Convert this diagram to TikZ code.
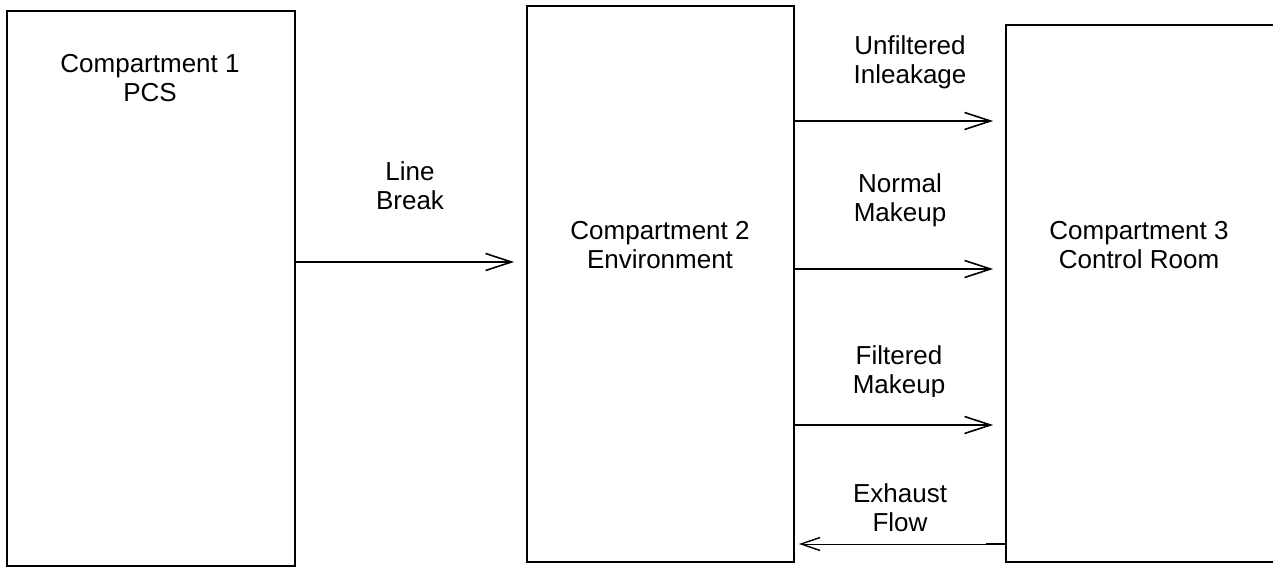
\documentclass[tikz,border=0pt]{standalone}
\usepackage{fontspec}
\setmainfont{Liberation Sans}
\usetikzlibrary{arrows.meta}

\begin{document}
\begin{tikzpicture}[x=1pt,y=-1pt,
  compbox/.style={draw=black,line width=1.8pt,rectangle,inner sep=0pt},
  lbl/.style={align=center,anchor=base,inner sep=0pt,
    font=\fontsize{26}{29}\selectfont},
  flow/.style={line width=1.6pt,-{Straight Barb[length=26pt,width=17pt,line width=1.6pt]},shorten >=12pt},
  backflow/.style={line width=0.8pt,-{Straight Barb[length=19pt,width=13pt,line width=1.4pt]},shorten >=4pt}]
  \useasboundingbox (0,0) rectangle (1273,567);

  % the three compartments
  \node[compbox,minimum width=288pt,minimum height=555pt] (box1) at (151,288.5) {};
  \node[compbox,minimum width=267pt,minimum height=556pt] (box2) at (660.5,284) {};
  \node[compbox,minimum width=268pt,minimum height=537pt] (box3) at (1140,293.5) {};

  % compartment names (placed by the baseline of their last line)
  \node[lbl] (t1) at (150,102)  {Compartment 1\\PCS};
  \node[lbl] (t2) at (660,268) {Compartment 2\\Environment};
  \node[lbl] (t3) at (1139,268) {Compartment 3\\Control Room};

  % heights of the flow paths
  \coordinate (yLB) at (0,262);
  \coordinate (yUI) at (0,121);
  \coordinate (yNM) at (0,269);
  \coordinate (yFM) at (0,425);
  \coordinate (yEF) at (0,544);

  % flows between compartments
  \draw[flow] (box1.east |- yLB) -- (box2.west |- yLB);
  \draw[flow] (box2.east |- yUI) -- (box3.west |- yUI);
  \draw[flow] (box2.east |- yNM) -- (box3.west |- yNM);
  \draw[flow] (box2.east |- yFM) -- (box3.west |- yFM);
  \draw[backflow] (box3.west |- yEF) -- (box2.east |- yEF);
  \draw[line width=1.5pt] (box3.west |- yEF) -- ++(-19,0) coordinate (stub);

  % flow names
  \node[lbl] (lLB) at (410,209) {Line\\Break};
  \node[lbl] (lUI) at (910,84)  {Unfiltered\\Inleakage};
  \node[lbl] (lNM) at (900,221) {Normal\\Makeup};
  \begin{scope}
    \clip (800,330) rectangle (1000,396);
    \node[lbl] (lFM) at (899,393) {Filtered\\Makeup};
  \end{scope}
  \node[lbl] (lEF) at (900,531) {Exhaust\\Flow};
\end{tikzpicture}
\end{document}
